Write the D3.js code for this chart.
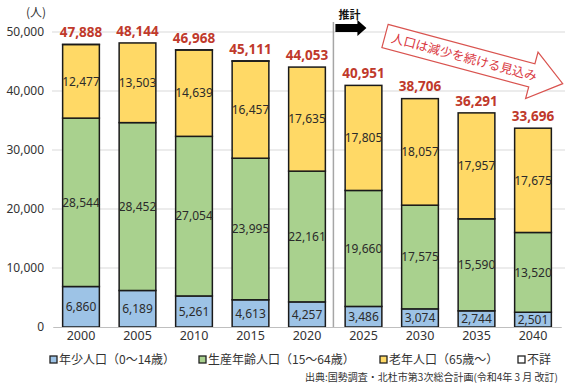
<!DOCTYPE html>
<html>
<head>
<meta charset="utf-8">
<script src="https://cdn.jsdelivr.net/npm/d3@7"></script>
<style>
  body { margin: 0; background: #fff; }
  svg { display: block; font-family: "Noto Sans CJK JP", "Noto Sans", sans-serif; }
</style>
</head>
<body>
<div id="chart"></div>
<script>
// datos
var years = ["2000", "2005", "2010", "2015", "2020", "2025", "2030", "2035", "2040"];
var young = [6860, 6189, 5261, 4613, 4257, 3486, 3074, 2744, 2501];
var working = [28544, 28452, 27054, 23995, 22161, 19660, 17575, 15590, 13520];
var elderly = [12477, 13503, 14639, 16457, 17635, 17805, 18057, 17957, 17675];
var unknown = [7, 0, 14, 46, 0, 0, 0, 0, 0];
var totals = [47888, 48144, 46968, 45111, 44053, 40951, 38706, 36291, 33696];
var yTicks = [0, 10000, 20000, 30000, 40000, 50000];
var seriesNames = ["年少人口（0～14歳）", "生産年齢人口（15～64歳）", "老年人口（65歳～）", "不詳"];
var seriesColors = ["#9dc3e6", "#a9d18e", "#ffd966", "#ffffff"];

var width = 565, height = 388;

var svg = d3.select("#chart").append("svg")
    .attr("width", width)
    .attr("height", height);

var x = d3.scaleBand()
    .domain(years)
    .range([52.75, 561.25])
    .paddingInner(0.35)
    .paddingOuter(0.175);

var y = d3.scaleLinear()
    .domain([0, 50000])
    .range([327, 32]);

// tabla para el apilado
var table = years.map(function(yr, i) {
    return { year: yr, s0: young[i], s1: working[i], s2: elderly[i], s3: unknown[i] };
});
var stack = d3.stack().keys(["s0", "s1", "s2", "s3"])(table);

// lineas de la cuadricula
svg.append("g")
    .selectAll("line")
    .data(yTicks.slice(1))
    .enter().append("line")
    .attr("x1", 52).attr("x2", 565)
    .attr("y1", function(d) { return y(d); })
    .attr("y2", function(d) { return y(d); })
    .attr("stroke", "#d9d9d9")
    .attr("stroke-width", 1);

// eje y
var yAxis = svg.append("g")
    .attr("transform", "translate(52,0)")
    .call(d3.axisLeft(y).tickValues(yTicks).tickSize(0).tickPadding(8).tickFormat(d3.format(",")));
yAxis.select(".domain").remove();
yAxis.selectAll("text")
    .attr("fill", "#333")
    .style("font-size", "12px")
    .style("font-family", "\"Noto Sans\", sans-serif");

svg.append("text")
    .attr("x", 36).attr("y", 17)
    .attr("text-anchor", "middle")
    .attr("fill", "#333")
    .style("font-size", "12px")
    .text("(人)");

// barras
svg.append("g")
    .selectAll("g")
    .data(stack)
    .enter().append("g")
    .attr("fill", function(d, i) { return seriesColors[i]; })
    .selectAll("rect")
    .data(function(d) { return d; })
    .enter().append("rect")
    .attr("x", function(d) { return x(d.data.year); })
    .attr("y", function(d) { return y(d[1]); })
    .attr("height", function(d) { return y(d[0]) - y(d[1]); })
    .attr("width", x.bandwidth())
    .attr("stroke", "#1a1a1a")
    .attr("stroke-width", 1.5);

// etiquetas de los segmentos
svg.append("g")
    .selectAll("g")
    .data(stack.slice(0, 3))
    .enter().append("g")
    .selectAll("text")
    .data(function(d) { return d; })
    .enter().append("text")
    .attr("x", function(d) { return x(d.data.year) + x.bandwidth() / 2; })
    .attr("y", function(d) { return (y(d[0]) + y(d[1])) / 2; })
    .attr("dy", "0.35em")
    .attr("text-anchor", "middle")
    .attr("fill", "#2b2b2b")
    .style("font-size", "12px")
    .style("font-family", "\"Noto Sans\", sans-serif")
    .text(function(d) { return d3.format(",")(d[1] - d[0]); });

// totales
svg.append("g")
    .selectAll("text")
    .data(totals)
    .enter().append("text")
    .attr("x", function(d, i) { return x(years[i]) + x.bandwidth() / 2; })
    .attr("y", function(d) { return y(d) - 12; })
    .attr("dy", "0.35em")
    .attr("text-anchor", "middle")
    .attr("fill", "#c0392b")
    .style("font-size", "13.5px")
    .style("font-weight", "bold")
    .style("font-family", "\"Noto Sans\", sans-serif")
    .text(function(d) { return d3.format(",")(d); });

// eje x
var xAxis = svg.append("g")
    .attr("transform", "translate(0,327)")
    .call(d3.axisBottom(x).tickSize(0).tickPadding(4));
xAxis.select(".domain").attr("stroke", "#bfbfbf");
xAxis.selectAll("text")
    .attr("fill", "#333")
    .style("font-size", "12.5px")
    .style("font-family", "\"Noto Sans\", sans-serif");

// division entre datos reales y estimacion
var divX = x("2025") - x.step() * x.paddingInner() / 2 - x.bandwidth() * 0.05;
svg.append("line")
    .attr("x1", divX).attr("x2", divX)
    .attr("y1", 22).attr("y2", 327)
    .attr("stroke", "#a6a6a6")
    .attr("stroke-width", 1.5);

svg.append("text")
    .attr("x", divX + 5).attr("y", 19)
    .attr("fill", "#111")
    .style("font-size", "11px")
    .style("font-weight", "bold")
    .text("推計");

svg.append("path")
    .attr("d", "M" + (divX + 2) + ",24 h22 v-4 l9,8 l-9,8 v-4 h-22 z")
    .attr("fill", "#000");

// flecha roja
var arrow = svg.append("g")
    .attr("transform", "translate(385,36) rotate(15)");
arrow.append("path")
    .attr("d", "M0,-12 L152,-12 L152,-24 L184,0 L152,24 L152,12 L0,12 Z")
    .attr("fill", "#fff")
    .attr("stroke", "#d9534f")
    .attr("stroke-width", 1.2);
arrow.append("text")
    .attr("x", 82).attr("y", 0)
    .attr("dy", "0.35em")
    .attr("text-anchor", "middle")
    .attr("fill", "#d9363e")
    .style("font-size", "12.5px")
    .text("人口は減少を続ける見込み");

// leyenda
var legendX = [50, 199, 380, 518];
var legend = svg.append("g")
    .selectAll("g")
    .data(seriesNames)
    .enter().append("g")
    .attr("transform", function(d, i) { return "translate(" + legendX[i] + ",360)"; });
legend.append("rect")
    .attr("x", 0).attr("y", -4)
    .attr("width", 7).attr("height", 7)
    .attr("fill", function(d, i) { return seriesColors[i]; })
    .attr("stroke", "#222")
    .attr("stroke-width", 1.3);
legend.append("text")
    .attr("x", 9).attr("y", 0)
    .attr("dy", "0.35em")
    .attr("fill", "#333")
    .style("font-size", "12px")
    .text(function(d) { return d; });

// fuente
svg.append("text")
    .attr("x", 558).attr("y", 377)
    .attr("dy", "0.35em")
    .attr("text-anchor", "end")
    .attr("fill", "#333")
    .style("font-size", "10px")
    .text("出典:国勢調査・北杜市第3次総合計画(令和4年 3 月 改訂)");
</script>
</body>
</html>
